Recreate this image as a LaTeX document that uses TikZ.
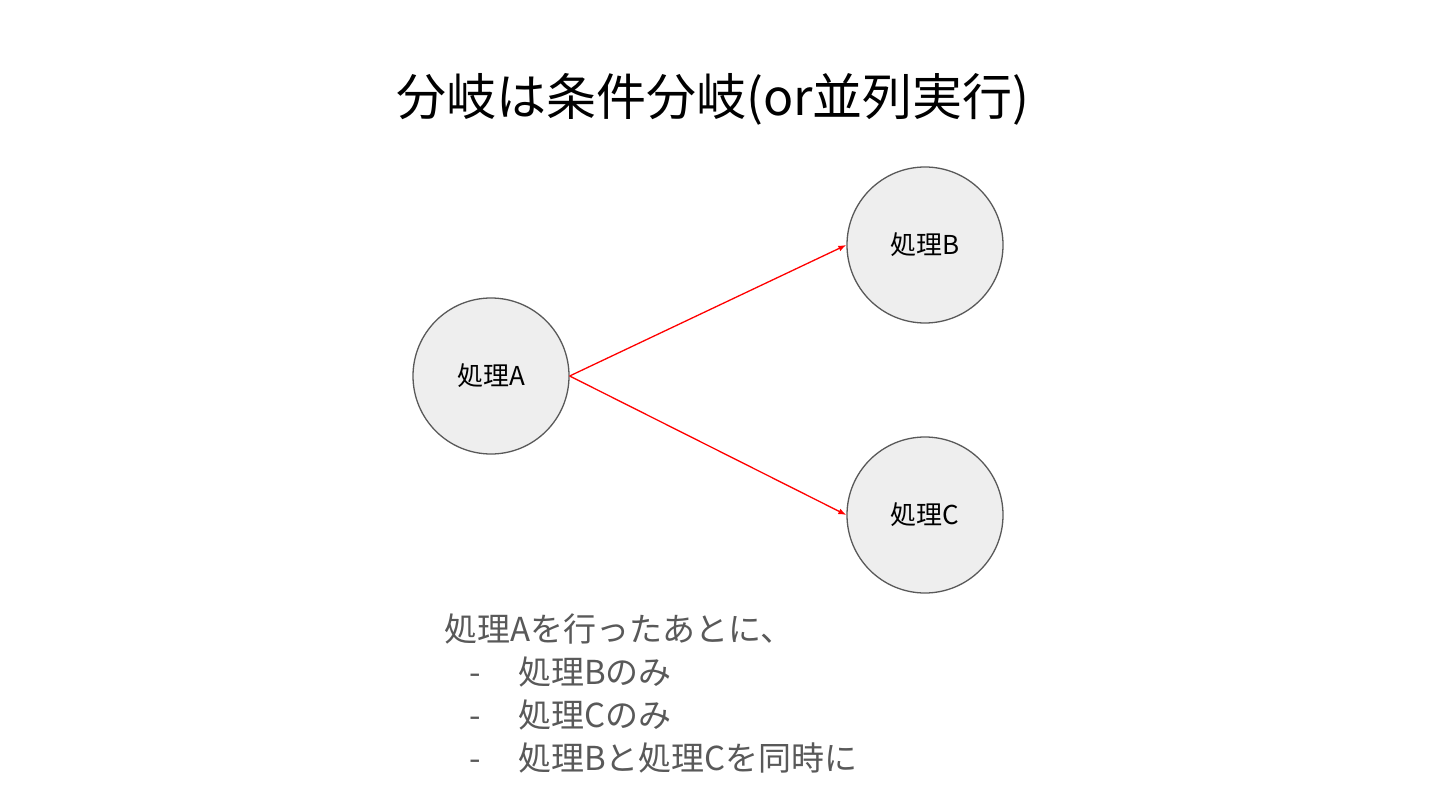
\documentclass[tikz,border=0pt]{standalone}
\usepackage{fontspec}
\setmainfont{Noto Sans CJK JP}
\usepackage{xcolor}
\usetikzlibrary{positioning,arrows.meta}
\definecolor{nodefill}{HTML}{EEEEEE}
\definecolor{nodeline}{HTML}{595959}
\definecolor{notegray}{HTML}{595959}

\begin{document}
\begin{tikzpicture}[
x=1pt, y=-1pt,
proc/.style={
    circle,
    draw=nodeline,
    fill=nodefill,
    line width=1.3pt,
    minimum size=156pt,
    inner sep=0pt,
    font=\fontsize{26}{30}\selectfont
},
arrow/.style={-{Latex[length=8pt,width=6pt]}, draw=red, line width=1.3pt}
]
\useasboundingbox (0,0) rectangle (1440,810);

\node (title) at (713,99) {\fontsize{50}{56}\selectfont 分岐は条件分岐(or並列実行)};

\node[proc] (a) at (491,376) {処理A};
\node[proc] (b) at (925,245) {処理B};
\node[proc] (c) at (925,515) {処理C};

\draw[arrow] (a.east) -- (b.west);
\draw[arrow] (a.east) -- (c.west);

\node[anchor=north west, inner sep=0pt, align=left, text=notegray,
      font=\fontsize{33}{42.7}\selectfont] (notes) at (444,614) {
処理Aを行ったあとに、\\
\hspace*{25pt}\makebox[49pt][l]{-}処理Bのみ\\
\hspace*{25pt}\makebox[49pt][l]{-}処理Cのみ\\
\hspace*{25pt}\makebox[49pt][l]{-}処理Bと処理Cを同時に
};

\end{tikzpicture}
\end{document}
